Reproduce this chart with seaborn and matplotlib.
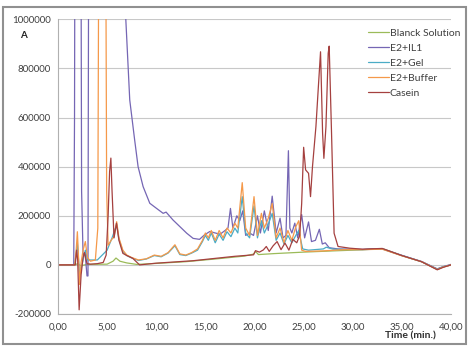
import matplotlib
matplotlib.use('Agg')
import matplotlib.pyplot as plt
import pandas as pd
import seaborn as sns
from matplotlib.patches import Rectangle

# chromatogram traces (time in min, signal)
blank_t = [0, 1.7, 2.0, 2.3, 3.0, 5.0, 5.6, 5.9, 6.3, 7.0, 8.0, 10.0, 13.0, 16.0, 19.0, 19.9, 20.1, 20.4,
           22.0, 25.0, 28.0, 30.0, 32.5, 33.2, 35.0, 37.0, 38.6, 39.2, 40.0]
blank_v = [0, 0, 5000, -3000, 2000, 3000, 15000, 28000, 15000, 8000, 2000, 6000, 13000, 24000, 36000, 44000,
           55000, 42000, 46000, 52000, 57000, 60000, 65000, 64000, 38000, 13000, -17000, -8000, 0]

il1_t = [0, 1.6, 1.68, 1.75, 2.3, 2.4, 2.55, 2.75, 2.95, 3.05, 3.15, 6.6, 6.9, 7.3, 7.8, 8.15, 8.66, 9.34,
         10.0, 10.7, 11.0, 11.7, 12.4, 13.1, 13.75, 14.4, 14.9, 15.45, 16.0, 16.5, 17.0, 17.3, 17.55, 17.8,
         18.2, 18.5, 18.8, 19.1, 19.5, 19.9, 20.3, 20.6, 21.0, 21.4, 21.8, 22.2, 22.6, 22.9, 23.2, 23.45,
         23.6, 23.8, 24.1, 24.4, 24.8, 25.1, 25.5, 25.8, 26.2, 26.6, 26.9, 27.2, 27.6, 28.5, 30.0, 31.0,
         32.0, 33.0, 35.0, 37.0, 38.6, 39.2, 40.0]
il1_v = [0, 0, 600000, 2e6, 2e6, 300000, 40000, 50000, -45000, -45000, 2e6, 2e6, 1e6, 672000, 509000,
         400000, 319000, 251000, 231000, 210000, 215000, 183000, 156000, 129000, 108000, 104000, 122000,
         136000, 130000, 125000, 140000, 150000, 230000, 150000, 200000, 180000, 220000, 120000, 130000,
         120000, 200000, 130000, 220000, 140000, 280000, 130000, 190000, 110000, 120000, 465000, 150000,
         130000, 170000, 110000, 205000, 110000, 175000, 95000, 100000, 145000, 85000, 90000, 70000, 65000,
         64000, 63000, 66000, 65000, 39000, 14000, -16000, -7000, 2000]

gel_t = [0, 1.7, 1.97, 2.2, 2.78, 3.0, 4.0, 5.0, 5.5, 5.97, 6.2, 6.6, 7.0, 7.5, 8.2, 9.0, 9.8, 10.5, 11.2,
         11.9, 12.4, 13.0, 13.6, 14.2, 14.7, 15.0, 15.3, 15.6, 16.0, 16.4, 16.8, 17.2, 17.6, 18.0, 18.3,
         18.75, 19.1, 19.5, 19.95, 20.3, 20.7, 21.0, 21.4, 21.8, 22.2, 22.6, 23.0, 23.4, 23.8, 24.2, 24.5,
         24.9, 25.5, 27.0, 27.3, 28.0, 29.0, 31.0, 33.0, 35.0, 37.0, 38.6, 39.2, 40.0]
gel_v = [0, 0, 90000, -40000, 60000, 20000, 20000, 60000, 110000, 165000, 105000, 55000, 38000, 28000,
         18000, 24000, 38000, 33000, 48000, 78000, 42000, 38000, 48000, 60000, 95000, 120000, 100000,
         130000, 90000, 125000, 100000, 135000, 115000, 150000, 130000, 278000, 130000, 110000, 240000,
         110000, 180000, 130000, 165000, 210000, 100000, 130000, 85000, 120000, 90000, 120000, 140000,
         65000, 60000, 65000, 72000, 64000, 63000, 62000, 65000, 38000, 13000, -18000, -8000, 0]

buffer_t = [0, 1.7, 1.85, 1.97, 2.1, 2.2, 2.35, 2.55, 2.78, 3.0, 3.3, 3.8, 4.05, 4.2, 4.8, 4.95, 5.1, 5.4,
            5.7, 5.97, 6.2, 6.6, 7.0, 7.5, 8.2, 9.0, 9.8, 10.5, 11.2, 11.9, 12.4, 13.0, 13.6, 14.2, 14.7,
            15.0, 15.3, 15.6, 16.0, 16.4, 16.8, 17.2, 17.6, 18.0, 18.3, 18.75, 19.1, 19.5, 19.95, 20.3,
            20.7, 21.0, 21.4, 21.8, 22.2, 22.6, 23.0, 23.4, 23.8, 24.2, 24.5, 24.8, 25.2, 27.0, 29.0, 31.0,
            33.0, 35.0, 37.0, 38.6, 39.2, 40.0]
buffer_v = [0, 0, 60000, 135000, 20000, -80000, 10000, 60000, 95000, 30000, 15000, 20000, 150000, 2e6,
            2e6, 300000, 80000, 100000, 115000, 176000, 110000, 60000, 40000, 30000, 20000, 25000, 40000,
            35000, 50000, 82000, 45000, 40000, 50000, 65000, 100000, 130000, 110000, 140000, 100000, 140000,
            110000, 150000, 130000, 170000, 150000, 335000, 150000, 120000, 278000, 120000, 210000, 150000,
            190000, 250000, 110000, 150000, 90000, 140000, 100000, 155000, 180000, 60000, 55000, 57000,
            62000, 62000, 64000, 37000, 13000, -19000, -9000, 0]

casein_t = [0, 1.75, 1.9, 2.0, 2.15, 2.35, 2.55, 2.7, 2.95, 3.3, 4.0, 4.6, 4.9, 5.1, 5.25, 5.38, 5.5, 5.7,
            5.95, 6.2, 6.6, 7.0, 7.6, 8.3, 10.0, 13.75, 16.1, 18.0, 19.9, 20.1, 20.5, 20.9, 21.2, 21.5, 21.9,
            22.3, 22.7, 23.1, 23.5, 23.9, 24.3, 24.6, 24.8, 25.0, 25.2, 25.5, 25.7, 25.9, 26.25, 26.5, 26.72,
            26.93, 27.06, 27.27, 27.5, 27.6, 27.84, 28.1, 28.5, 29.7, 31.0, 33.0, 35.0, 37.0, 38.6, 39.2,
            40.0]
casein_v = [0, 0, 60000, 20000, -183000, -40000, 30000, 50000, 5000, 3000, 5000, 10000, 40000, 200000,
            380000, 435000, 300000, 110000, 170000, 100000, 47000, 38000, 27000, 0, 7000, 17000, 27000,
            35000, 41000, 58000, 52000, 61000, 75000, 55000, 78000, 95000, 62000, 89000, 60000, 104000,
            90000, 120000, 250000, 479000, 387000, 373000, 278000, 400000, 563000, 726000, 868000, 536000,
            434000, 563000, 862000, 891000, 536000, 129000, 75000, 68000, 64000, 67000, 38000, 13000,
            -20000, -10000, 0]

series_names = ['Blanck Solution', 'E2+IL1', 'E2+Gel', 'E2+Buffer', 'Casein']
series_colors = ['#9BBB59', '#7566B4', '#4BACC6', '#F5994A', '#A5403F']
x_ticks = [0, 5, 10, 15, 20, 25, 30, 35, 40]
y_ticks = [-200000, 0, 200000, 400000, 600000, 800000, 1000000]

frames = []
for name, t, v in zip(series_names,
                      [blank_t, il1_t, gel_t, buffer_t, casein_t],
                      [blank_v, il1_v, gel_v, buffer_v, casein_v]):
    frames.append(pd.DataFrame({'Time': t, 'Signal': v, 'Sample': name}))
df = pd.concat(frames, ignore_index=True)

sns.set_style('white')
plt.rcParams['font.family'] = ['Lato', 'DejaVu Sans']

fig, ax = plt.subplots(figsize=(4.74, 3.46), dpi=100)
fig.subplots_adjust(left=0.1224, right=0.9515, top=0.944, bottom=0.0925)

sns.lineplot(data=df, x='Time', y='Signal', hue='Sample', hue_order=series_names,
             palette=dict(zip(series_names, series_colors)), estimator=None, sort=False,
             linewidth=0.9, ax=ax)

ax.set_xlim(0, 40)
ax.set_ylim(-200000, 1000000)
ax.set_xticks(x_ticks)
ax.set_xticklabels([f'{x:.2f}'.replace('.', ',') for x in x_ticks])
ax.set_yticks(y_ticks)
ax.set_yticklabels([str(y) for y in y_ticks])
ax.set_xlabel('')
ax.set_ylabel('')

ax.grid(axis='y', color='#c8c8c8', linewidth=0.8)
ax.set_axisbelow(True)
for side in ['top', 'right']:
    ax.spines[side].set_visible(False)
for side in ['left', 'bottom']:
    ax.spines[side].set_color('#b0b0b0')
    ax.spines[side].set_linewidth(0.8)
ax.tick_params(axis='both', labelsize=7, colors='#404040', length=3, width=0.6, direction='out')
ax.tick_params(axis='x', color='#b0b0b0', pad=3)
ax.tick_params(axis='y', color='#c8c8c8', pad=2)

leg = ax.legend(loc='upper right', bbox_to_anchor=(0.98, 0.93), bbox_transform=fig.transFigure,
                frameon=False, fontsize=7.5, handlelength=2.0, labelspacing=0.55, handletextpad=0.1,
                borderaxespad=0)
for line in leg.get_lines():
    line.set_linewidth(0.9)
for text in leg.get_texts():
    text.set_color('#404040')

fig.text(0.042, 0.896, 'A', fontsize=7, fontweight='bold', color='#202020', ha='left', va='center')
fig.text(0.865, 0.03, 'Time (min.)', fontsize=7.5, fontweight='bold', color='#303030',
         ha='center', va='center')

fig.patches.append(Rectangle((0.006, 0.006), 0.977, 0.974, transform=fig.transFigure,
                             fill=False, edgecolor='#909090', linewidth=1.5))

fig.savefig('out.png', dpi=100)
